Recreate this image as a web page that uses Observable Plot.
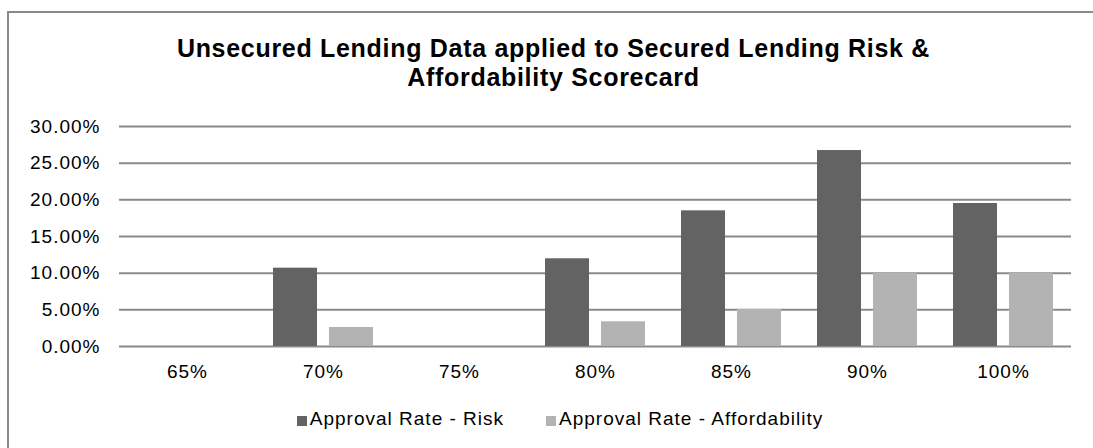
<!DOCTYPE html>
<html>
<head>
<meta charset="utf-8">
<script src="https://cdn.jsdelivr.net/npm/d3@7"></script>
<script src="https://cdn.jsdelivr.net/npm/@observablehq/plot@0.6"></script>
<style>
  html, body { margin: 0; padding: 0; background: #fff; overflow: hidden; width: 1093px; height: 448px; }
  #wrap { position: relative; width: 1093px; height: 448px; font-family: "Liberation Sans", Arial, sans-serif; color: #000; }
  #frame { position: absolute; left: 7px; top: 11px; width: 1200px; height: 600px; border: 2px solid #8a8a8a; box-sizing: border-box; }
  #title { position: absolute; left: 0; top: 34px; width: 1107px; text-align: center; font-weight: bold; font-size: 25px; line-height: 29px; letter-spacing: 0.7px; }
  #chart { position: absolute; left: 0; top: 100px; }
  #chart svg text { font-family: "Liberation Sans", Arial, sans-serif; }
  #legend { position: absolute; left: 0; top: 408px; width: 1120px; display: flex; justify-content: center; font-size: 19px; line-height: 22px; letter-spacing: 1px; }
  .item { display: flex; align-items: flex-end; margin: 0 21px; }
  .sw { width: 10px; height: 10px; margin-right: 3px; margin-bottom: 4px; }
</style>
</head>
<body>
<div id="wrap">
  <div id="frame"></div>
  <div id="title"></div>
  <div id="chart"></div>
  <div id="legend"></div>
</div>
<script>
const titleLines = ["Unsecured Lending Data applied to Secured Lending Risk &", "Affordability Scorecard"];
const categories = ["65%", "70%", "75%", "80%", "85%", "90%", "100%"];
const seriesNames = ["Approval Rate - Risk", "Approval Rate - Affordability"];
const riskValues = [0, 0.1068, 0, 0.1196, 0.1850, 0.2672, 0.1950];
const affordValues = [0, 0.0259, 0, 0.0337, 0.0505, 0.1000, 0.1000];
const seriesColors = ["#636363", "#b3b3b3"];
const yTicks = [0, 0.05, 0.10, 0.15, 0.20, 0.25, 0.30];

const data = [];
categories.forEach((c, i) => {
  data.push({cat: c, series: seriesNames[0], value: riskValues[i]});
  data.push({cat: c, series: seriesNames[1], value: affordValues[i]});
});

document.getElementById("title").innerHTML = titleLines.join("<br>");

const chart = Plot.plot({
  width: 1093,
  height: 300,
  marginTop: 26,
  marginBottom: 54,
  marginLeft: 117,
  marginRight: 21,
  style: {fontFamily: "Liberation Sans, Arial, sans-serif", fontSize: "19px", color: "#000", background: "transparent", letterSpacing: "1px"},
  fx: {domain: categories, padding: 0, label: null},
  x: {domain: seriesNames, paddingInner: 0.21, paddingOuter: 0.30, axis: null},
  y: {domain: [0, 0.30], label: null, axis: null},
  color: {domain: seriesNames, range: seriesColors},
  marks: [
    Plot.gridY(yTicks, {stroke: "#8a8a8a", strokeOpacity: 1, strokeWidth: 2}),
    Plot.barY(data, {fx: "cat", x: "series", y: "value", fill: "series"}),
    Plot.axisY(yTicks, {tickFormat: d3.format(".2%"), tickSize: 0, tickPadding: 19, label: null, fill: "#000"}),
    Plot.axisFx({anchor: "bottom", tickSize: 0, tickPadding: 18, label: null, fill: "#000"})
  ]
});
document.getElementById("chart").appendChild(chart);

const legend = document.getElementById("legend");
seriesNames.forEach((name, i) => {
  const item = document.createElement("div");
  item.className = "item";
  const sw = document.createElement("span");
  sw.className = "sw";
  sw.style.background = seriesColors[i];
  const label = document.createElement("span");
  label.textContent = name;
  item.appendChild(sw);
  item.appendChild(label);
  legend.appendChild(item);
});
</script>
</body>
</html>
